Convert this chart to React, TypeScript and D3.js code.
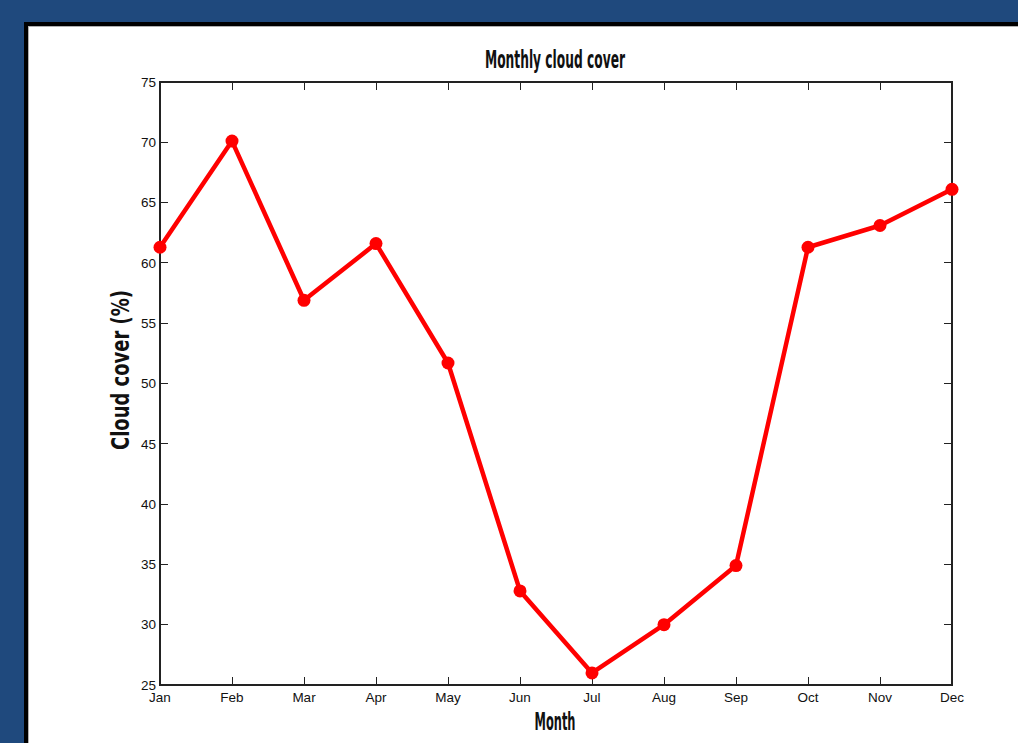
import { useEffect, useRef } from "react";
import * as d3 from "d3";

const months = ["Jan", "Feb", "Mar", "Apr", "May", "Jun", "Jul", "Aug", "Sep", "Oct", "Nov", "Dec"];
const cloudCover = [61.3, 70.1, 56.9, 61.6, 51.7, 32.8, 26.0, 30.0, 34.9, 61.3, 63.1, 66.1];
const yTicks = [25, 30, 35, 40, 45, 50, 55, 60, 65, 70, 75];

export default function App() {
  const svgRef = useRef<SVGSVGElement | null>(null);

  useEffect(() => {
    if (!svgRef.current) return;
    const svg = d3.select(svgRef.current);
    svg.selectAll("*").remove();

    const width = 1018;
    const height = 743;
    const plot = { left: 160, right: 952, top: 82, bottom: 685 };

    // backdrop: blue slide, white panel with black frame
    svg.append("rect").attr("width", width).attr("height", height).attr("fill", "#1f497d");
    svg.append("rect").attr("x", 24).attr("y", 22).attr("width", 1000).attr("height", 730).attr("fill", "#000");
    svg.append("rect").attr("x", 28).attr("y", 26).attr("width", 1000).attr("height", 730).attr("fill", "#b0b0b0");
    svg.append("rect").attr("x", 29).attr("y", 27).attr("width", 1000).attr("height", 730).attr("fill", "#fff");

    const x = d3.scalePoint<string>().domain(months).range([plot.left, plot.right]);
    const y = d3.scaleLinear().domain([25, 75]).range([plot.bottom, plot.top]);

    const tickLen = 8;
    const g = svg.append("g").attr("shape-rendering", "crispEdges");

    // box
    g.append("rect")
      .attr("x", plot.left)
      .attr("y", plot.top)
      .attr("width", plot.right - plot.left)
      .attr("height", plot.bottom - plot.top)
      .attr("fill", "none")
      .attr("stroke", "#222")
      .attr("stroke-width", 1.2);

    // x ticks (bottom and top)
    months.forEach((m) => {
      const px = x(m)!;
      g.append("line").attr("x1", px).attr("x2", px).attr("y1", plot.bottom).attr("y2", plot.bottom - tickLen).attr("stroke", "#222");
      g.append("line").attr("x1", px).attr("x2", px).attr("y1", plot.top).attr("y2", plot.top + tickLen).attr("stroke", "#222");
    });
    // y ticks (left and right)
    yTicks.forEach((t) => {
      const py = y(t);
      g.append("line").attr("x1", plot.left).attr("x2", plot.left + tickLen).attr("y1", py).attr("y2", py).attr("stroke", "#222");
      g.append("line").attr("x1", plot.right).attr("x2", plot.right - tickLen).attr("y1", py).attr("y2", py).attr("stroke", "#222");
    });

    const tickFont = "'Liberation Sans', Arial, sans-serif";
    svg.append("g")
      .selectAll("text")
      .data(months)
      .join("text")
      .attr("x", (d) => x(d)!)
      .attr("y", plot.bottom + 17)
      .attr("text-anchor", "middle")
      .attr("font-family", tickFont)
      .attr("font-size", 13.5)
      .attr("fill", "#111")
      .text((d) => d);

    svg.append("g")
      .selectAll("text")
      .data(yTicks)
      .join("text")
      .attr("x", plot.left - 4)
      .attr("y", (d) => y(d))
      .attr("dy", "0.35em")
      .attr("text-anchor", "end")
      .attr("font-family", tickFont)
      .attr("font-size", 13.5)
      .attr("fill", "#111")
      .text((d) => d);

    // series
    const line = d3
      .line<number>()
      .x((_, i) => x(months[i])!)
      .y((d) => y(d));

    svg.append("path")
      .datum(cloudCover)
      .attr("d", line)
      .attr("fill", "none")
      .attr("stroke", "#ff0000")
      .attr("stroke-width", 4.5)
      .attr("stroke-linejoin", "round");

    svg.append("g")
      .selectAll("circle")
      .data(cloudCover)
      .join("circle")
      .attr("cx", (_, i) => x(months[i])!)
      .attr("cy", (d) => y(d))
      .attr("r", 6.5)
      .attr("fill", "#ff0000");

    // titles
    const titleFont = "'Liberation Sans Narrow', 'DejaVu Sans Condensed', sans-serif";
    svg.append("text")
      .attr("x", 555)
      .attr("y", 68)
      .attr("text-anchor", "middle")
      .attr("font-family", titleFont)
      .attr("font-weight", "bold")
      .attr("font-size", 24)
      .attr("textLength", 140)
      .attr("lengthAdjust", "spacingAndGlyphs")
      .attr("fill", "#111")
      .text("Monthly cloud cover");

    svg.append("text")
      .attr("x", 555)
      .attr("y", 730)
      .attr("text-anchor", "middle")
      .attr("font-family", titleFont)
      .attr("font-weight", "bold")
      .attr("font-size", 24)
      .attr("textLength", 41)
      .attr("lengthAdjust", "spacingAndGlyphs")
      .attr("fill", "#111")
      .text("Month");

    svg.append("text")
      .attr("transform", "translate(129, 370) rotate(-90)")
      .attr("text-anchor", "middle")
      .attr("font-family", titleFont)
      .attr("font-weight", "bold")
      .attr("font-size", 24)
      .attr("textLength", 160)
      .attr("lengthAdjust", "spacingAndGlyphs")
      .attr("fill", "#111")
      .text("Cloud cover (%)");
  }, []);

  return (
    <svg
      ref={svgRef}
      width={1018}
      height={743}
      style={{ position: "absolute", left: 0, top: 0, display: "block" }}
    />
  );
}
